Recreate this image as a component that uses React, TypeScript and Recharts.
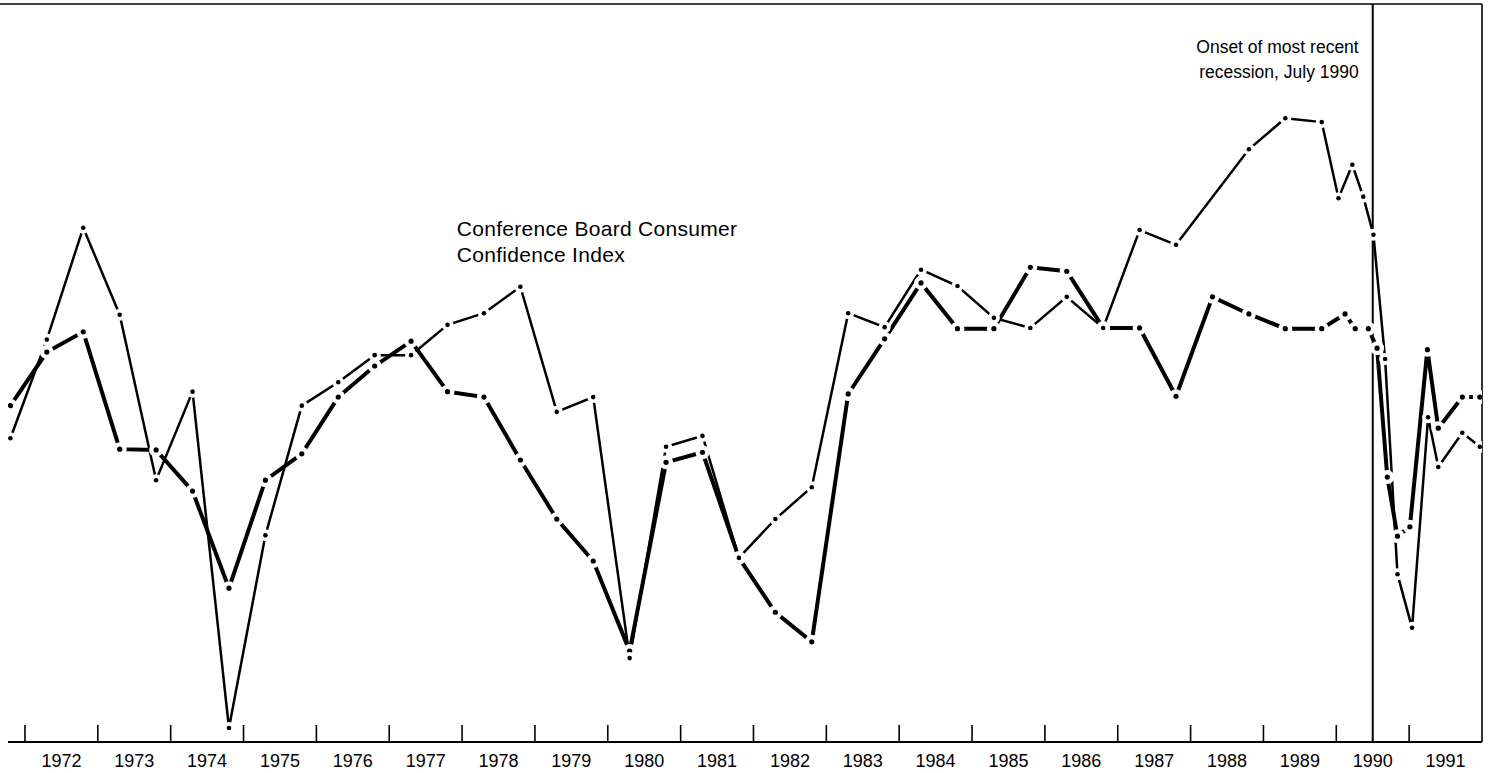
import React from "react";
import {
  LineChart,
  Line,
  XAxis,
  YAxis,
  ReferenceLine,
  ReferenceDot,
} from "recharts";

// semiannual observations, 1971 H2 .. 1989 H2 (decimal years)
const semiannualDates = [
  1971.8, 1972.3, 1972.8, 1973.3, 1973.8, 1974.3, 1974.8, 1975.3, 1975.8,
  1976.3, 1976.8, 1977.3, 1977.8, 1978.3, 1978.8, 1979.3, 1979.8, 1980.3,
  1980.8, 1981.3, 1981.8, 1982.3, 1982.8, 1983.3, 1983.8, 1984.3, 1984.8,
  1985.3, 1985.8, 1986.3, 1986.8, 1987.3, 1987.8, 1988.3, 1988.8, 1989.3,
  1989.8,
];

// heavy line (unlabelled index)
const otherIndexValues = [
  83.3, 90.2, 92.8, 77.7, 77.6, 72.3, 59.8, 73.7, 77.1, 84.4, 88.4, 91.6, 85.1,
  84.4, 76.3, 68.7, 63.3, 51.7, 76.0, 77.3, 63.7, 56.7, 52.9, 84.8, 91.9, 99.1,
  93.2, 93.2, 101.1, 100.6, 93.3, 93.3, 84.5, 97.3, 95.1, 93.2, 93.2,
];
const otherTailDates = [
  1990.12, 1990.26, 1990.44, 1990.56, 1990.7, 1990.84, 1991.01, 1991.25,
  1991.4, 1991.73, 1991.97,
];
const otherTailValues = [
  95.1, 93.2, 93.2, 90.7, 74.1, 66.5, 67.7, 90.5, 80.4, 84.4, 84.4,
];

// lighter line: Conference Board Consumer Confidence Index (no 1988.3 point)
const confDates = semiannualDates.filter((d) => d !== 1988.3);
const confValues = [
  79.1, 91.8, 106.2, 95.0, 73.7, 85.1, 41.8, 66.6, 83.3, 86.3, 89.8, 89.8, 93.7,
  95.2, 98.6, 82.5, 84.4, 50.8, 78.0, 79.4, 63.7, 68.7, 72.8, 95.2, 93.4, 100.8,
  98.7, 94.6, 93.3, 97.3, 93.3, 105.9, 104.0, 116.3, 120.3, 119.8,
];
const confTailDates = [
  1990.03, 1990.22, 1990.37, 1990.51, 1990.67, 1990.84, 1991.04, 1991.26,
  1991.4, 1991.73, 1991.97,
];
const confTailValues = [
  110.0, 114.3, 110.2, 105.3, 89.3, 61.6, 54.7, 81.8, 75.4, 79.8, 78.0,
];

const yearTicks = [
  1972, 1973, 1974, 1975, 1976, 1977, 1978, 1979, 1980, 1981, 1982, 1983, 1984,
  1985, 1986, 1987, 1988, 1989, 1990, 1991,
];

const recessionNote = ["Onset of most recent", "recession, July 1990"];
const confNote = ["Conference Board Consumer", "Confidence Index"];

const WIDTH = 1489;
const HEIGHT = 773;
const MARGIN = { top: 4, right: 7, bottom: 0, left: 8 };
const X_MIN = 1971.767;
const X_MAX = 1992;
const Y_MAX = 135;
const PX_PER_YEAR = (WIDTH - MARGIN.left - MARGIN.right) / (X_MAX - X_MIN);
const FONT = '"Liberation Sans", Arial, Helvetica, sans-serif';

const toSeries = (dates: number[], values: number[]) =>
  dates.map((t, i) => ({ t, v: values[i] }));

const otherData = toSeries(
  [...semiannualDates, ...otherTailDates],
  [...otherIndexValues, ...otherTailValues]
);
const confData = toSeries(
  [...confDates, ...confTailDates],
  [...confValues, ...confTailValues]
);

const YearTick = (props: any) => {
  const { x, y, payload } = props;
  return (
    <g>
      <line x1={x} x2={x} y1={y - 17} y2={y} stroke="#000" strokeWidth={1.6} />
      <text
        x={x + PX_PER_YEAR / 2}
        y={y + 25}
        textAnchor="middle"
        fontSize={18}
        fontFamily={FONT}
        fill="#000"
      >
        {payload.value}
      </text>
    </g>
  );
};

// dash-dot look: a white gap around each vertex with a black dot in it
const gapDot = (gap: number, r: number) => (props: any) => {
  const { cx, cy, index } = props;
  if (cx == null || cy == null) return <g key={`e-${index}`} />;
  return (
    <g key={`d-${index}`}>
      <circle cx={cx} cy={cy} r={gap} fill="#fff" />
      <circle cx={cx} cy={cy} r={r} fill="#000" />
    </g>
  );
};

const RecessionLabel = (props: any) => {
  const { viewBox } = props;
  const x = viewBox.x - 14;
  return (
    <text textAnchor="end" fontSize={17.5} fontFamily={FONT} fill="#000">
      <tspan x={x} y={viewBox.y + 49}>
        {recessionNote[0]}
      </tspan>
      <tspan x={x} y={viewBox.y + 74}>
        {recessionNote[1]}
      </tspan>
    </text>
  );
};

const ConfLabel = (props: any) => {
  const { viewBox } = props;
  const x = viewBox.x;
  return (
    <text
      textAnchor="start"
      fontSize={21}
      fontFamily={FONT}
      letterSpacing={0.3}
      fill="#000"
    >
      <tspan x={x} y={viewBox.y}>
        {confNote[0]}
      </tspan>
      <tspan x={x} y={viewBox.y + 26}>
        {confNote[1]}
      </tspan>
    </text>
  );
};

const App: React.FC = () => {
  return (
    <div
      style={{
        position: "absolute",
        left: 0,
        top: 0,
        width: WIDTH,
        height: HEIGHT,
        background: "#fff",
      }}
    >
      <LineChart width={WIDTH} height={HEIGHT} margin={MARGIN}>
        <XAxis
          type="number"
          dataKey="t"
          domain={[X_MIN, X_MAX]}
          allowDataOverflow
          ticks={yearTicks}
          interval={0}
          tick={<YearTick />}
          tickLine={false}
          tickSize={0}
          tickMargin={0}
          axisLine={{ stroke: "#000", strokeWidth: 2 }}
          height={31}
        />
        <YAxis type="number" domain={[40, Y_MAX]} allowDataOverflow hide />
        <ReferenceLine
          segment={[
            { x: X_MIN - MARGIN.left / PX_PER_YEAR, y: Y_MAX },
            { x: X_MAX, y: Y_MAX },
          ]}
          ifOverflow="visible"
          stroke="#000"
          strokeWidth={1.5}
        />
        <ReferenceLine x={X_MAX} stroke="#000" strokeWidth={1.6} />
        <ReferenceLine
          x={1990.5}
          stroke="#000"
          strokeWidth={2}
          label={<RecessionLabel />}
        />
        <ReferenceDot
          x={1977.94}
          y={105}
          r={1}
          fill="none"
          stroke="none"
          label={<ConfLabel />}
        />
        <Line
          data={otherData}
          dataKey="v"
          type="linear"
          stroke="#000"
          strokeWidth={4}
          dot={gapDot(7, 2.6)}
          activeDot={false}
          isAnimationActive={false}
        />
        <Line
          data={confData}
          dataKey="v"
          type="linear"
          stroke="#000"
          strokeWidth={2.5}
          dot={gapDot(6, 2.3)}
          activeDot={false}
          isAnimationActive={false}
        />
      </LineChart>
    </div>
  );
};

export default App;
